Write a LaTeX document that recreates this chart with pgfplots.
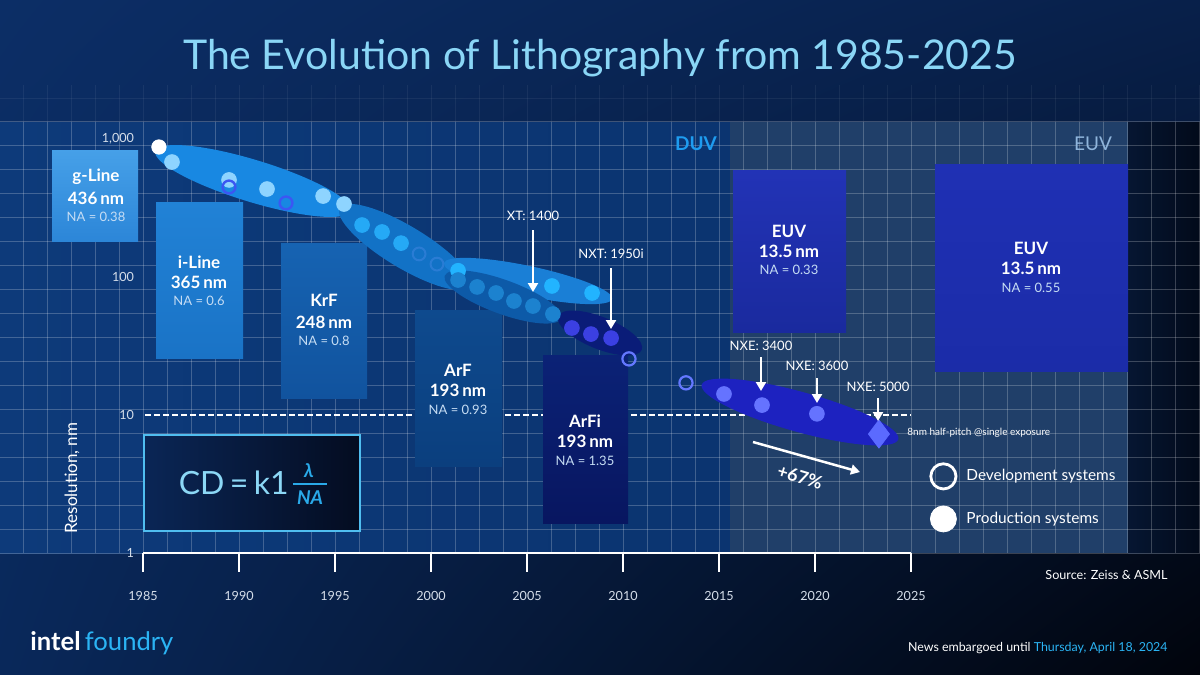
\documentclass[border=0pt]{standalone}
\usepackage{pgfplots}
\pgfplotsset{compat=1.18}
\usepackage{fontspec}
\setmainfont{Lato}
\usetikzlibrary{arrows.meta,shadings}

\definecolor{titleblue}{HTML}{8AD6F6}
\definecolor{euvbg}{HTML}{203F69}
\definecolor{natext}{HTML}{C6DDF4}
\definecolor{ticktext}{HTML}{D5DEEA}
\definecolor{prodA}{HTML}{8ED4FF}
\definecolor{prodB}{HTML}{25A9F6}
\definecolor{prodC}{HTML}{22B4FF}
\definecolor{prodD}{HTML}{1C82CF}
\definecolor{prodE}{HTML}{3B40E2}
\definecolor{prodF}{HTML}{6573FF}
\definecolor{devA}{HTML}{3B57F2}
\definecolor{devB}{HTML}{6478FF}
\definecolor{devC}{HTML}{2A7CD4}
\definecolor{foundry}{HTML}{2BB4F4}
\definecolor{cdtext}{HTML}{8CD8F6}
\definecolor{cdblue}{HTML}{2AA9E8}
\definecolor{duvlabel}{HTML}{1E9CF0}
\definecolor{euvlabel}{HTML}{8FB5DC}
\definecolor{pgUL}{RGB}{12,46,102}
\definecolor{pgUR}{RGB}{8,32,74}
\definecolor{pgLL}{RGB}{9,40,90}
\definecolor{pgLR}{RGB}{1,4,12}

\tikzset{
  bt/.style={font=\bfseries\fontsize{8.5}{10}\selectfont, text=white},
  nt/.style={font=\fontsize{6.5}{8}\selectfont, text=natext},
  sys/.style={font=\fontsize{6.5}{8}\selectfont, text=white},
  pt/.style={white, line width=1.25pt, -{Triangle[length=4.5pt,width=5pt]}},
}

\begin{document}
\begin{tikzpicture}[x=0.5pt,y=-0.5pt]
\useasboundingbox (0,0) rectangle (1200,675);
% page
\shade[upper left=pgUL, upper right=pgUR, lower left=pgLL, lower right=pgLR]
  (0,0) rectangle (1200,675);
% plot panels
\shade[left color={rgb,255:red,13;green,58;blue,122}, right color={rgb,255:red,11;green,52;blue,112}] (0,122) rectangle (730,553);
\fill[euvbg] (730,122) rectangle (1128,553);
\shade[left color={rgb,255:red,6;green,22;blue,50}, right color={rgb,255:red,2;green,10;blue,26}] (1128,122) rectangle (1200,553);
% grid
\begin{scope}[draw=white, opacity=0.22, line width=0.5pt]
\foreach \k in {-6,...,44} \draw (143+24*\k,122) -- (143+24*\k,553);
\foreach \k in {0,...,18} \draw (0,553-24*\k) -- (1200,553-24*\k);
\end{scope}
\begin{scope}[draw=white, opacity=0.06, line width=0.5pt]
\foreach \k in {-6,...,44} \draw (143+24*\k,85) -- (143+24*\k,122);
\draw (0,98) -- (1200,98);
\end{scope}
% reference line at 10 nm
\draw[white, line width=0.7pt, dash pattern=on 3pt off 1.5pt] (145,415) -- (911,415);

% technology boxes
\shade[top color={rgb,255:red,70;green,160;blue,232}, bottom color={rgb,255:red,44;green,134;blue,216}] (52,150) rectangle (138,241);
\shade[top color={rgb,255:red,33;green,130;blue,214}, bottom color={rgb,255:red,26;green,115;blue,198}] (156,202) rectangle (243,358);
\shade[top color={rgb,255:red,22;green,99;blue,178}, bottom color={rgb,255:red,17;green,83;blue,158}] (281,243) rectangle (367,398);
\shade[top color={rgb,255:red,14;green,74;blue,142}, bottom color={rgb,255:red,11;green,63;blue,126}] (415,310) rectangle (502,466);
\shade[top color={rgb,255:red,11;green,34;blue,118}, bottom color={rgb,255:red,8;green,22;blue,96}] (543,355) rectangle (628,523);
\shade[top color={rgb,255:red,34;green,51;blue,182}, bottom color={rgb,255:red,26;green,42;blue,158}] (733,170) rectangle (846,332);
\shade[top color={rgb,255:red,31;green,48;blue,180}, bottom color={rgb,255:red,27;green,44;blue,168}] (935,164) rectangle (1128,371);

\node[bt] at (96,177) {g-Line};
\node[bt] at (96,198) {436\,nm};
\node[nt] at (96,217) {NA = 0.38};
\node[bt] at (199,262) {i-Line};
\node[bt] at (199,282) {365\,nm};
\node[nt] at (199,301) {NA = 0.6};
\node[bt] at (324,300) {KrF};
\node[bt] at (324,322) {248\,nm};
\node[nt] at (324,341) {NA = 0.8};
\node[bt] at (458,370) {ArF};
\node[bt] at (458,390) {193\,nm};
\node[nt] at (458,410) {NA = 0.93};
\node[bt] at (585,421) {ArFi};
\node[bt] at (585,441) {193\,nm};
\node[nt] at (585,461) {NA = 1.35};
\node[bt] at (789,231) {EUV};
\node[bt] at (789,251) {13.5\,nm};
\node[nt] at (789,270) {NA = 0.33};
\node[bt] at (1031,248) {EUV};
\node[bt] at (1031,268) {13.5\,nm};
\node[nt] at (1031,288) {NA = 0.55};

\node[font=\bfseries\fontsize{9.5}{11}\selectfont, text=duvlabel] at (696,144) {DUV};
\node[font=\fontsize{9.5}{11}\selectfont, text=euvlabel] at (1093,144) {EUV};

% era highlights
\fill[color={rgb,255:red,24;green,136;blue,226}, rotate around={-17:(253,181)}] (253,181) ellipse [x radius=102, y radius=21];
\fill[color={rgb,255:red,18;green,114;blue,198}, rotate around={-31:(405,247)}] (405,247) ellipse [x radius=76, y radius=21];
\fill[color={rgb,255:red,26;green,127;blue,214}, rotate around={-12:(528,281)}] (528,281) ellipse [x radius=86, y radius=15];
\fill[color={rgb,255:red,13;green,90;blue,168}, rotate around={-20:(503,297)}] (503,297) ellipse [x radius=62, y radius=17];
\fill[color={rgb,255:red,10;green,28;blue,120}, rotate around={-22:(600,333)}] (600,333) ellipse [x radius=45, y radius=16];
\fill[color={rgb,255:red,29;green,34;blue,192}, rotate around={-15.5:(800,412)}] (800,412) ellipse [x radius=102, y radius=20];

% formula box
\shade[left color={rgb,255:red,10;green,38;blue,86}, right color={rgb,255:red,4;green,12;blue,32}] (144,435) rectangle (360,531);
\draw[color={rgb,255:red,80;green,190;blue,240}, line width=1.2pt] (144,435) rectangle (360,531);
\node[text=cdtext, font=\fontsize{16}{19}\selectfont, inner sep=0pt, anchor=east] at (289,483) {CD\,=\,k1};
\node[text=cdblue, font=\bfseries\itshape\fontsize{9.5}{11}\selectfont, inner sep=0pt] at (309,471) {λ};
\draw[cdblue, line width=0.9pt] (293,484) -- (327,484);
\node[text=cdblue, font=\bfseries\itshape\fontsize{9.5}{11}\selectfont, inner sep=0pt] at (310,498) {NA};

\node[rotate=90, font=\fontsize{8.5}{10}\selectfont, text=white] at (72,478) {Resolution, nm};

\begin{scope}[x=1cm,y=1cm]
\begin{axis}[
  at={(0pt,-276.5pt)}, anchor=south west,
  scale only axis, width=600pt, height=215.5pt,
  xmin=1977.552, xmax=2040.052,
  ymode=log, ymin=1, ymax=1328,
  clip=false,
  axis line style={draw=none},
  xtick={1985,1990,...,2025},
  xticklabels={1985,1990,1995,2000,2005,2010,2015,2020,2025},
  ytick={1,10,100,1000},
  yticklabels={1,10,100,{1,000}},
  xtick pos=bottom, ytick pos=left,
  tick align=outside,
  major tick length=9.5pt,
  x tick style={white, line width=1pt},
  y tick style={draw=none},
  minor tick style={draw=none},
  ticklabel style={font=\fontsize{6.3}{7}\selectfont, text=ticktext},
  xticklabel style={yshift=-6pt},
  yticklabel style={anchor=east, xshift=80pt},
  legend style={at={(0.775,0.208)}, anchor=north west, draw=none, fill=none,
    text=white, font=\fontsize{7.7}{9}\selectfont, row sep=8.5pt, inner sep=0pt},
  legend cell align=left,
]
\draw[white, line width=1pt] (axis cs:1985,1) -- (axis cs:2025,1);
\addlegendimage{only marks, mark=o, mark size=6.3pt, white, mark options={line width=1.4pt}}
\addlegendentry{\hspace{3pt}Development systems}
\addlegendimage{only marks, mark=*, mark size=6.5pt, white}
\addlegendentry{\hspace{3pt}Production systems}
% g-line / i-line
\addplot[forget plot, only marks, mark=*, mark size=3.6pt, white] coordinates {(1985.83,875)};
\addplot[forget plot, only marks, mark=*, mark size=3.7pt, prodA] coordinates {
(1986.51,681) (1989.48,505) (1991.46,434) (1994.38,386) (1995.47,338)};
\addplot[forget plot, only marks, mark=o, mark size=3.2pt, devA, mark options={line width=1.2pt}] coordinates {
(1989.48,449) (1992.45,344)};
% KrF
\addplot[forget plot, only marks, mark=*, mark size=3.7pt, prodB] coordinates {
(1996.41,238) (1997.45,212) (1998.44,176)};
\addplot[forget plot, only marks, mark=o, mark size=3.2pt, devC, mark options={line width=1pt}] coordinates {
(1999.38,147) (2000.31,124)};
% ArF
\addplot[forget plot, only marks, mark=*, mark size=3.7pt, prodC] coordinates {
(2001.41,111) (2006.30,86.1) (2008.39,76.6)};
\addplot[forget plot, only marks, mark=*, mark size=3.7pt, prodD] coordinates {
(2001.41,95.1) (2002.40,84.7) (2003.39,76.6) (2004.32,67.0) (2005.31,61.6) (2006.35,53.9)};
% ArFi
\addplot[forget plot, only marks, mark=*, mark size=3.7pt, prodE] coordinates {
(2007.34,42.7) (2008.33,38.6) (2009.38,36.1)};
\addplot[forget plot, only marks, mark=o, mark size=3.3pt, devB, mark options={line width=1.1pt}] coordinates {
(2010.31,25.5) (2013.28,17.1)};
% EUV
\addplot[forget plot, only marks, mark=*, mark size=3.7pt, prodF] coordinates {
(2015.26,14.2) (2017.24,11.8) (2020.10,10.2)};
\addplot[forget plot, only marks, mark=diamond*, mark size=7pt, color={rgb,255:red,91;green,106;blue,255}] coordinates {
(2023.33,7.28)};
\end{axis}
\end{scope}

% system call-outs
\node[sys] at (533,216) {XT: 1400};
\draw[pt] (533,230) -- (533,292);
\node[sys] at (611,254) {NXT: 1950i};
\draw[pt] (611,268) -- (611,329);
\node[sys] at (761,346) {NXE: 3400};
\draw[pt] (761,357) -- (761,391);
\node[sys] at (817,366) {NXE: 3600};
\draw[pt] (817,378) -- (817,403);
\node[sys] at (878,387) {NXE: 5000};
\draw[pt] (878,398) -- (878,421);
\node[anchor=west, font=\fontsize{5}{6}\selectfont, text=white, inner sep=0pt] at (907,433) {8nm half-pitch @single exposure};
\draw[pt] (753,442) -- (860,472);
\node[rotate=-17, font=\bfseries\fontsize{9}{11}\selectfont, text=white] at (800,477) {+67\%};

% titles and footer
\node[font=\fontsize{20.5}{24}\selectfont, text=titleblue] at (600,58) {The Evolution of Lithography from 1985-2025};
\node[anchor=east, font=\fontsize{6.3}{8}\selectfont, text=white, inner sep=0pt] at (1168,575) {Source: Zeiss \& ASML};
\node[anchor=west, inner sep=0pt, font=\fontsize{12.8}{15}\selectfont] at (30,643) {\textcolor{white}{\bfseries intel}\,\textcolor{foundry}{foundry}};
\node[anchor=east, inner sep=0pt, font=\fontsize{6.2}{8}\selectfont, text=white] at (1168,648) {News embargoed until \textcolor{foundry}{Thursday, April 18, 2024}};
\end{tikzpicture}
\end{document}
